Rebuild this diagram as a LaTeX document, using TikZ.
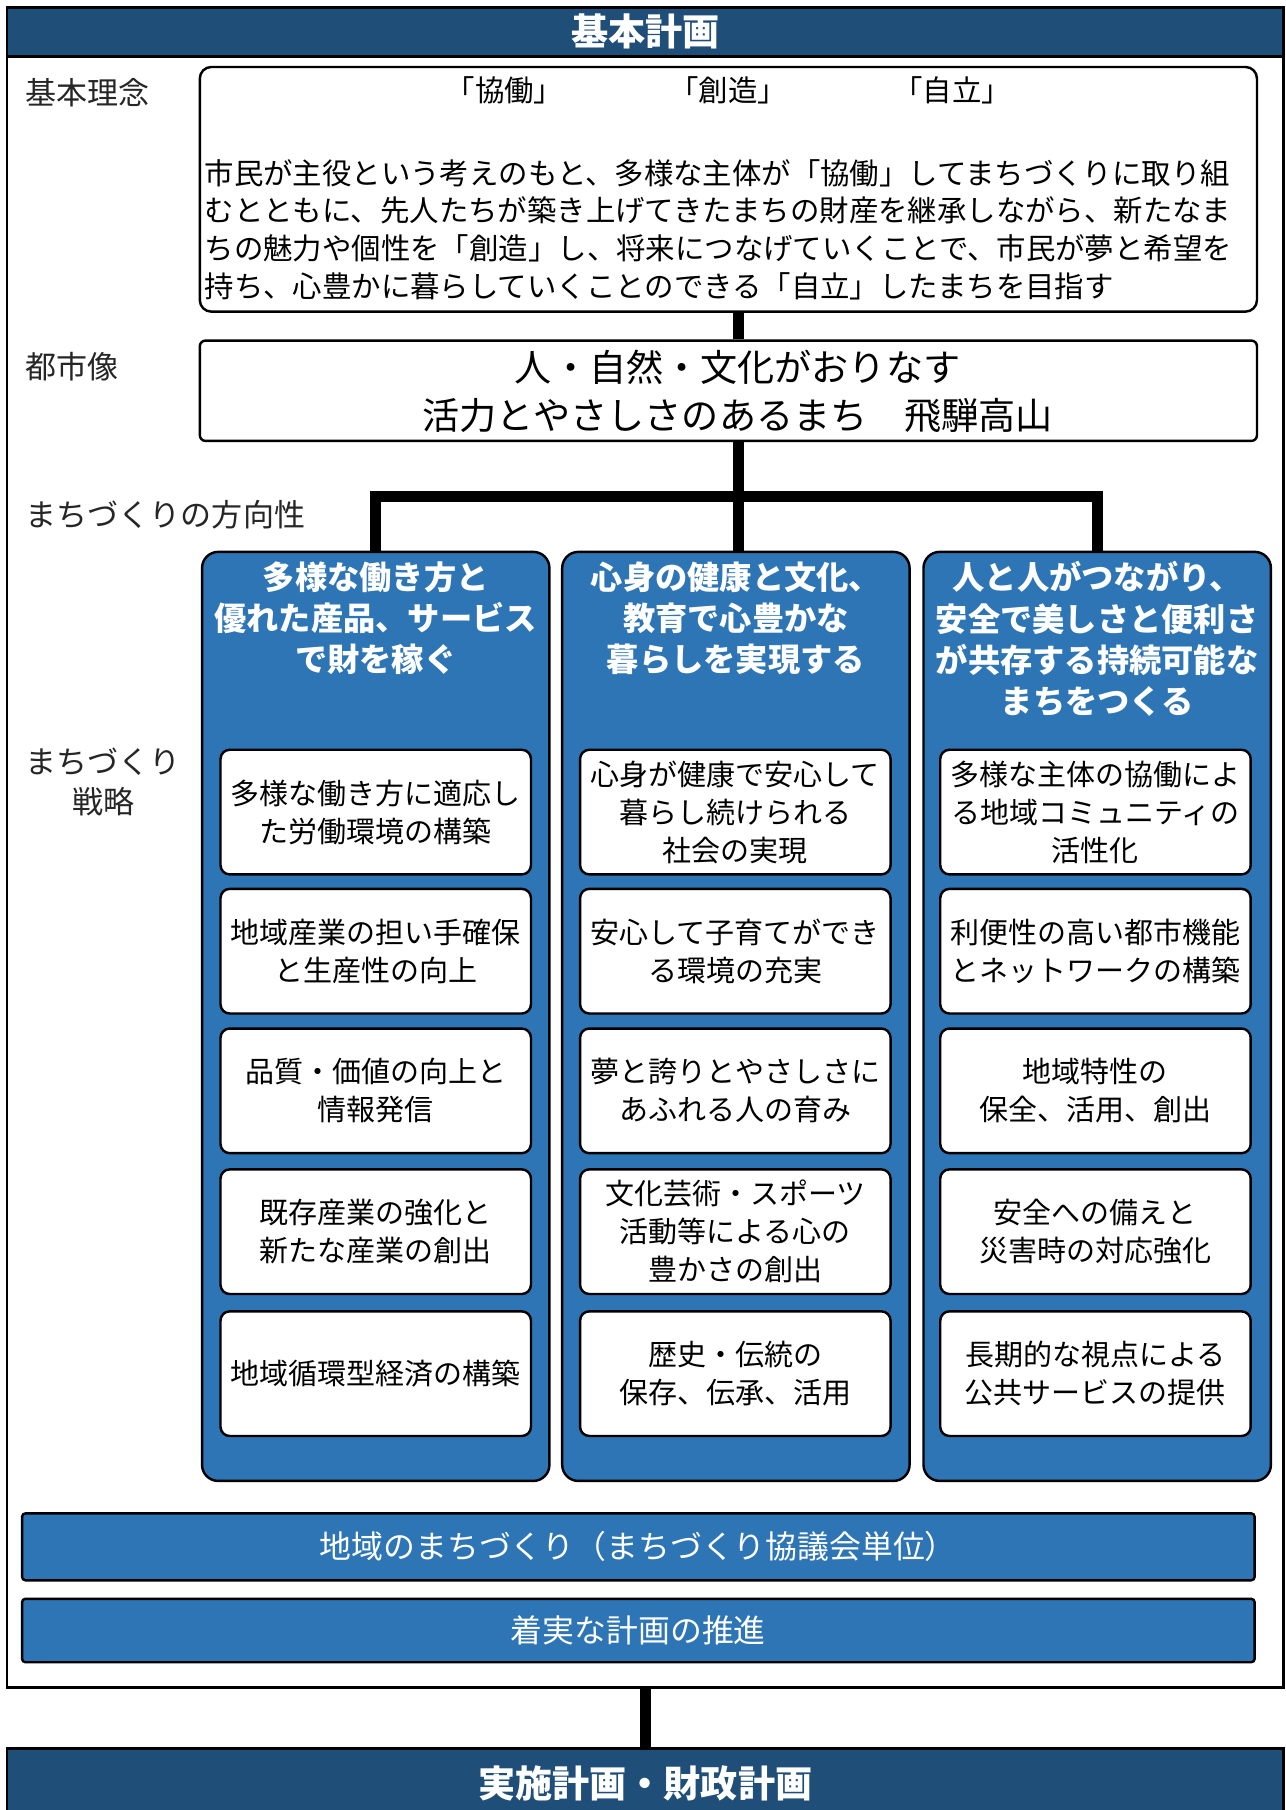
\documentclass[tikz,border=0pt]{standalone}
\usepackage{fontspec}
\setmainfont{Noto Sans CJK JP}
\definecolor{planblue}{RGB}{31,78,121}
\definecolor{dirblue}{RGB}{46,117,182}

\begin{document}
\begin{tikzpicture}[x=0.02cm,y=-0.02cm,
  planframe/.style={rectangle,draw,line width=1.4pt,fill=white},
  planhead/.style={rectangle,draw,line width=1.4pt,fill=planblue,text=white,font=\fontsize{18.3}{22}\selectfont\bfseries},
  rowtag/.style={anchor=west,inner sep=0pt,align=center,text=black!85,font=\fontsize{15.3}{19.8}\selectfont},
  ideabox/.style={rectangle,draw,rounded corners=0.2cm,line width=1.2pt,fill=white,minimum width=18.32cm},
  idetext/.style={inner sep=0pt,font=\fontsize{14.5}{18.7}\selectfont},
  dirbox/.style={rectangle,draw,rounded corners=0.28cm,line width=1.2pt,fill=dirblue,minimum width=6.02cm,minimum height=16.1cm},
  dirtitle/.style={anchor=north,inner sep=0pt,align=center,text=white,font=\fontsize{15.9}{20.4}\selectfont\bfseries},
  stratbox/.style={rectangle,draw,rounded corners=0.16cm,line width=1.2pt,fill=white,minimum width=5.38cm,minimum height=2.16cm,align=center,font=\fontsize{14.3}{18.7}\selectfont},
  barbox/.style={rectangle,draw,rounded corners=0.06cm,line width=1.2pt,fill=dirblue,text=white,minimum width=21.36cm,font=\fontsize{15.7}{19}\selectfont},
  joint/.style={line width=5.6pt}]

         \useasboundingbox (0,0) rectangle (1114,1568);

         \node [planframe, minimum width=22.12cm, minimum height=29.08cm] (plan) at (559,735) {};
         \node [planhead, minimum width=22.12cm, minimum height=0.78cm] (head) at (559,27.5) {基本計画};
         \node [planhead, minimum width=22.12cm, minimum height=1.2cm] (exec) at (559,1545) {実施計画・財政計画};

         \node [rowtag] (tagidea)   at (22,80)    {基本理念};
         \node [rowtag] (tagvision) at (22,318)   {都市像};
         \node [rowtag] (tagdir)    at (22,446)   {まちづくりの方向性};
         \node [rowtag] (tagstrat)  at (22,677.5) {まちづくり\\戦略};

         \node [ideabox, minimum height=4.24cm] (idea) at (631,164) {};
         \node [idetext] (keys) at (631,78) {「協働」\hspace{1.84cm}「創造」\hspace{1.84cm}「自立」};
         \node [idetext, anchor=west, align=left] (creed) at (177,199)
           {市民が主役という考えのもと、多様な主体が「協働」してまちづくりに取り組\\
            むとともに、先人たちが築き上げてきたまちの財産を継承しながら、新たなま\\
            ちの魅力や個性を「創造」し、将来につなげていくことで、市民が夢と希望を\\
            持ち、心豊かに暮らしていくことのできる「自立」したまちを目指す};

         \node [ideabox, minimum height=1.74cm, rounded corners=0.1cm] (vision) at (631,338.5) {};
         \node [inner sep=0pt, align=center, font=\fontsize{18.3}{23.8}\selectfont] (motto) at (639,339)
           {人・自然・文化がおりなす\\活力とやさしさのあるまち　飛騨高山};

         \node [dirbox] (dirA) at (325.5,880.5) {};
         \node [dirbox] (dirB) at (637.5,880.5) {};
         \node [dirbox] (dirC) at (950.5,880.5) {};
         \node [dirtitle] (titA) at (325.5,486) {多様な働き方と\\優れた産品、サービス\\で財を稼ぐ};
         \node [dirtitle] (titB) at (637.5,486) {心身の健康と文化、\\教育で心豊かな\\暮らしを実現する};
         \node [dirtitle] (titC) at (950.5,486) {人と人がつながり、\\安全で美しさと便利さ\\が共存する持続可能な\\まちをつくる};

         \node [stratbox] (A1) at (325.5,703.5) {多様な働き方に適応し\\た労働環境の構築};
         \node [stratbox] (A2) at (325.5,824)   {地域産業の担い手確保\\と生産性の向上};
         \node [stratbox] (A3) at (325.5,945)   {品質・価値の向上と\\情報発信};
         \node [stratbox] (A4) at (325.5,1067)  {既存産業の強化と\\新たな産業の創出};
         \node [stratbox] (A5) at (325.5,1190)  {地域循環型経済の構築};

         \node [stratbox] (B1) at (637,703.5) {心身が健康で安心して\\暮らし続けられる\\社会の実現};
         \node [stratbox] (B2) at (637,824)   {安心して子育てができ\\る環境の充実};
         \node [stratbox] (B3) at (637,945)   {夢と誇りとやさしさに\\あふれる人の育み};
         \node [stratbox] (B4) at (637,1067)  {文化芸術・スポーツ\\活動等による心の\\豊かさの創出};
         \node [stratbox] (B5) at (637,1190)  {歴史・伝統の\\保存、伝承、活用};

         \node [stratbox] (C1) at (949,703.5) {多様な主体の協働によ\\る地域コミュニティの\\活性化};
         \node [stratbox] (C2) at (949,824)   {利便性の高い都市機能\\とネットワークの構築};
         \node [stratbox] (C3) at (949,945)   {地域特性の\\保全、活用、創出};
         \node [stratbox] (C4) at (949,1067)  {安全への備えと\\災害時の対応強化};
         \node [stratbox] (C5) at (949,1190)  {長期的な視点による\\公共サービスの提供};

         \node [barbox, minimum height=1.16cm] (local)  at (553,1340)   {地域のまちづくり（まちづくり協議会単位）};
         \node [barbox, minimum height=1.1cm]  (steady) at (553,1412.5) {着実な計画の推進};

         \coordinate (hub) at (640,430);
  		 \draw [joint] (idea.south -| hub) -- (vision.north -| hub);
  		 \draw [joint] (vision.south -| hub) -- (hub) -- (hub |- dirB.north);
  		 \draw [joint] (dirA.north) -- (dirA.north |- hub) -- (dirC.north |- hub) -- (dirC.north);
  		 \draw [joint] (plan.south -| exec) -- (exec.north);

        \end{tikzpicture}
\end{document}
